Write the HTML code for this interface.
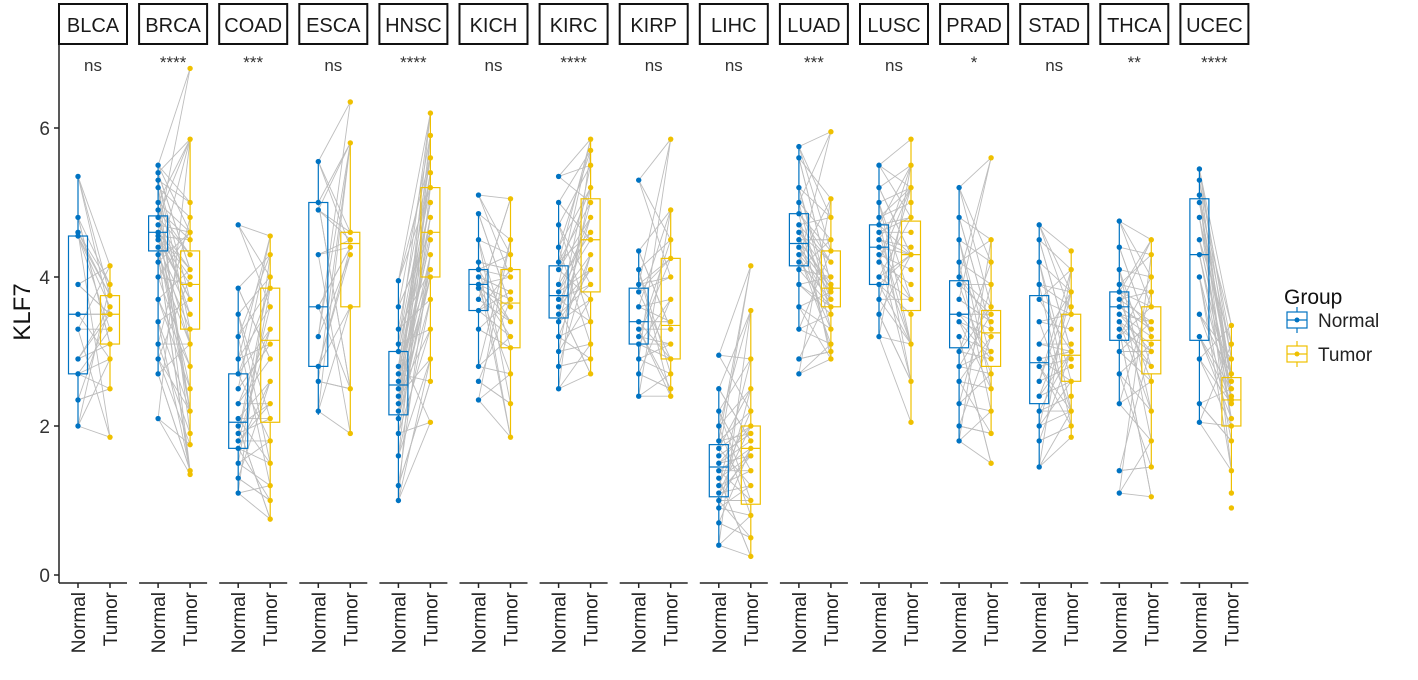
<!DOCTYPE html>
<html><head><meta charset="utf-8"><style>
body{margin:0;background:#fff;}
svg{display:block;font-family:"Liberation Sans",Arial,sans-serif;}
</style></head><body>
<svg id="chart" width="1418" height="680"></svg>
<script>
const cancers=["BLCA","BRCA","COAD","ESCA","HNSC","KICH","KIRC","KIRP","LIHC","LUAD","LUSC","PRAD","STAD","THCA","UCEC"];
const sigLabels=["ns","****","***","ns","****","ns","****","ns","ns","***","ns","*","ns","**","****"];
const yTicks=[0,2,4,6];
// box stats: [whiskLow,q1,median,q3,whiskHigh]
const normalBox=[[2.0,2.7,3.5,4.55,5.35],[2.7,4.35,4.6,4.82,5.5],[1.1,1.7,2.05,2.7,3.85],[2.15,2.8,3.6,5.0,5.55],[1.0,2.15,2.55,3.0,3.95],[2.8,3.55,3.9,4.1,4.85],[2.5,3.45,3.75,4.15,5.0],[2.4,3.1,3.4,3.85,4.35],[0.4,1.05,1.45,1.75,2.5],[3.3,4.15,4.45,4.85,5.75],[3.2,3.9,4.4,4.7,5.5],[1.8,3.05,3.5,3.95,5.2],[1.45,2.3,2.85,3.75,4.7],[2.3,3.15,3.6,3.8,4.75],[2.05,3.15,4.3,5.05,5.45]];
const tumorBox=[[2.5,3.1,3.5,3.75,4.15],[1.75,3.3,3.9,4.35,5.85],[0.75,2.05,3.15,3.85,4.55],[1.9,3.6,4.45,4.6,5.8],[2.6,4.0,4.6,5.2,6.2],[1.85,3.05,3.65,4.1,5.05],[2.7,3.8,4.5,5.05,5.85],[2.4,2.9,3.35,4.25,4.9],[0.25,0.95,1.7,2.0,3.55],[2.9,3.6,3.85,4.35,5.05],[2.05,3.55,4.3,4.75,5.85],[1.9,2.8,3.25,3.55,4.5],[1.85,2.6,2.95,3.5,4.35],[1.45,2.7,3.15,3.6,4.5],[1.1,2.0,2.35,2.65,3.35]];
// paired sample values
const normalVals=[
[5.35,4.8,4.6,4.55,3.9,3.5,3.3,2.9,2.7,2.35,2.0],
[5.5,5.4,5.3,5.2,5.0,4.9,4.8,4.7,4.6,4.55,4.5,4.4,4.3,4.2,4.0,3.7,3.4,3.1,2.9,2.7,2.1],
[4.7,3.85,3.5,3.2,2.9,2.7,2.5,2.3,2.1,2.0,1.9,1.8,1.7,1.5,1.3,1.1],
[5.55,5.0,4.9,4.3,3.6,3.2,2.8,2.6,2.2],
[3.95,3.6,3.3,3.1,3.0,2.8,2.7,2.6,2.5,2.4,2.3,2.2,2.1,1.9,1.6,1.2,1.0],
[5.1,4.85,4.5,4.2,4.1,4.0,3.9,3.85,3.7,3.55,3.3,2.8,2.6,2.35],
[5.35,5.0,4.7,4.4,4.2,4.1,3.9,3.8,3.7,3.6,3.5,3.4,3.2,3.0,2.8,2.5],
[5.3,4.35,4.1,3.9,3.8,3.6,3.4,3.3,3.2,3.1,2.9,2.7,2.4],
[2.95,2.5,2.2,2.0,1.8,1.7,1.6,1.5,1.4,1.3,1.2,1.1,1.0,0.9,0.7,0.4],
[5.75,5.6,5.2,5.0,4.85,4.7,4.6,4.5,4.4,4.3,4.2,4.1,3.9,3.6,3.3,2.9,2.7],
[5.5,5.2,5.0,4.8,4.7,4.6,4.5,4.4,4.3,4.2,4.0,3.9,3.7,3.5,3.2],
[5.2,4.8,4.5,4.2,4.0,3.9,3.7,3.5,3.4,3.2,3.0,2.8,2.6,2.3,2.0,1.8],
[4.7,4.5,4.2,3.9,3.7,3.4,3.1,2.9,2.8,2.6,2.4,2.2,2.0,1.8,1.45],
[4.75,4.4,4.1,3.9,3.8,3.7,3.6,3.5,3.4,3.3,3.2,3.0,2.7,2.3,1.4,1.1],
[5.45,5.3,5.1,5.0,4.8,4.5,4.3,4.0,3.5,3.2,2.9,2.3,2.05]];
const tumorVals=[
[4.15,3.9,3.75,3.6,3.5,3.5,3.3,3.1,2.9,2.5,1.85],
[6.8,5.85,5.0,4.8,4.6,4.5,4.3,4.1,4.0,3.9,3.7,3.5,3.3,3.1,2.8,2.5,2.2,1.9,1.75,1.4,1.35],
[4.55,4.3,4.0,3.85,3.6,3.3,3.1,2.9,2.6,2.3,2.1,1.8,1.5,1.2,1.0,0.75],
[6.35,5.8,4.6,4.5,4.4,4.3,3.6,2.5,1.9],
[6.2,5.9,5.6,5.4,5.2,5.0,4.8,4.6,4.5,4.3,4.1,4.0,3.7,3.3,2.9,2.6,2.05],
[5.05,4.5,4.3,4.1,4.0,3.8,3.7,3.6,3.4,3.2,3.05,2.7,2.3,1.85],
[5.85,5.7,5.5,5.2,5.0,4.8,4.6,4.5,4.3,4.1,3.9,3.7,3.4,3.1,2.9,2.7],
[5.85,4.9,4.5,4.25,4.0,3.7,3.4,3.3,3.1,2.9,2.7,2.5,2.4],
[4.15,3.55,2.9,2.5,2.2,2.0,1.9,1.8,1.7,1.6,1.4,1.2,1.0,0.8,0.5,0.25],
[5.95,5.05,4.8,4.5,4.35,4.2,4.0,3.9,3.85,3.8,3.7,3.6,3.5,3.3,3.1,3.0,2.9],
[5.85,5.5,5.2,5.0,4.8,4.6,4.4,4.3,4.1,3.9,3.7,3.5,3.1,2.6,2.05],
[5.6,4.5,4.2,3.9,3.6,3.5,3.4,3.3,3.2,3.0,2.9,2.7,2.5,2.2,1.9,1.5],
[4.35,4.1,3.8,3.6,3.5,3.3,3.1,3.0,2.9,2.8,2.6,2.4,2.2,2.0,1.85],
[4.5,4.3,4.0,3.8,3.6,3.4,3.3,3.2,3.1,3.0,2.8,2.6,2.2,1.8,1.45,1.05],
[3.35,3.1,2.9,2.7,2.6,2.5,2.4,2.35,2.3,2.1,2.0,1.8,1.4,1.1,0.9]];

const NS="http://www.w3.org/2000/svg";
const svg=document.getElementById("chart");
const BLUE="#0073C2",GOLD="#EFC000";
const panelLeft=i=>59+i*80.1, panelW=68;
const xN=i=>panelLeft(i)+19, xT=i=>panelLeft(i)+51;
const y=v=>575-v*74.5;
function mk(tag,attrs,parent){const e=document.createElementNS(NS,tag);for(const k in attrs)e.setAttribute(k,attrs[k]);(parent||svg).appendChild(e);return e;}

const yAxis=mk("g",{});


mk("line",{x1:59,y1:44,x2:59,y2:583,stroke:"#222","stroke-width":1.5},yAxis);
yTicks.forEach(t=>{
  mk("line",{x1:54,y1:y(t),x2:59,y2:y(t),stroke:"#222","stroke-width":1.5},yAxis);
  const tx=mk("text",{x:50,y:y(t)+7,"text-anchor":"end","font-size":19,fill:"#333"},yAxis);
  tx.textContent=t;
  
  
});
const yt=mk("text",{x:0,y:0,transform:"translate(30,312) rotate(-90)","text-anchor":"middle","font-size":24,fill:"#111"});
yt.textContent="KLF7";



function drawBox(g,x,b,col){
  const w=19;
  mk("line",{x1:x,y1:y(b[0]),x2:x,y2:y(b[1]),stroke:col,"stroke-width":1.2},g);
  mk("line",{x1:x,y1:y(b[3]),x2:x,y2:y(b[4]),stroke:col,"stroke-width":1.2},g);
  mk("rect",{x:x-w/2,y:y(b[3]),width:w,height:y(b[1])-y(b[3]),fill:"none",stroke:col,"stroke-width":1.2},g);
  mk("line",{x1:x-w/2,y1:y(b[2]),x2:x+w/2,y2:y(b[2]),stroke:col,"stroke-width":1.2},g);
}

cancers.forEach((c,i)=>{
  const g=mk("g",{});
  
  
  const L=panelLeft(i);
  const s=mk("rect",{x:L,y:4,width:panelW,height:40,fill:"#fff",stroke:"#111","stroke-width":2},g);
  
  
  const st=mk("text",{x:L+panelW/2,y:32,"text-anchor":"middle","font-size":20,fill:"#1a1a1a"},g);
  st.textContent=c;
  const sg=mk("text",{x:L+panelW/2,y:sigLabels[i]==="ns"?71:68,"text-anchor":"middle","font-size":17,fill:"#333"},g);
  sg.textContent=sigLabels[i];
  
  
  mk("line",{x1:L,y1:583,x2:L+panelW,y2:583,stroke:"#222","stroke-width":1.5},g);
  [[xN(i),"Normal"],[xT(i),"Tumor"]].forEach(([x,lab])=>{
    mk("line",{x1:x,y1:583,x2:x,y2:588,stroke:"#222","stroke-width":1.5},g);
    const t=mk("text",{x:0,y:0,transform:`translate(${x+7},592) rotate(-90)`,"text-anchor":"end","font-size":19,fill:"#222"},g);
    t.textContent=lab;
    
    
  });
  const nv=normalVals[i],tv=tumorVals[i];
  const n=Math.min(nv.length,tv.length);
  for(let k=0;k<n;k++){
    for(let m=0;m<3;m++){
      const kk=(k*(m===1?5:(m===2?3:1))+m*2)%n;
      mk("line",{x1:xN(i),y1:y(nv[k]),x2:xT(i),y2:y(tv[kk]),stroke:"#bdbdbd","stroke-width":0.9},g);
    }
  }
  drawBox(g,xN(i),normalBox[i],BLUE);
  drawBox(g,xT(i),tumorBox[i],GOLD);
  nv.forEach(v=>{mk("circle",{cx:xN(i),cy:y(v),r:2.7,fill:BLUE},g);});
  tv.forEach(v=>{mk("circle",{cx:xT(i),cy:y(v),r:2.7,fill:GOLD},g);});
});

const lg=mk("g",{});


const lt=mk("text",{x:1284,y:304,"font-size":21,fill:"#111"},lg);lt.textContent="Group";
[["Normal",BLUE,320],["Tumor",GOLD,354]].forEach(([lab,col,cy])=>{
  const e=mk("g",{},lg);
  
  
  mk("line",{x1:1297,y1:cy-13,x2:1297,y2:cy+13,stroke:col,"stroke-width":1.2},e);
  mk("rect",{x:1287,y:cy-8,width:20,height:16,fill:"#fff",stroke:col,"stroke-width":1.2},e);
  mk("line",{x1:1287,y1:cy,x2:1307,y2:cy,stroke:col,"stroke-width":1.2},e);
  mk("circle",{cx:1297,cy:cy,r:2.5,fill:col},e);
  const t=mk("text",{x:1318,y:cy+7,"font-size":19,fill:"#222"},e);t.textContent=lab;
});
</script>
</body></html>
